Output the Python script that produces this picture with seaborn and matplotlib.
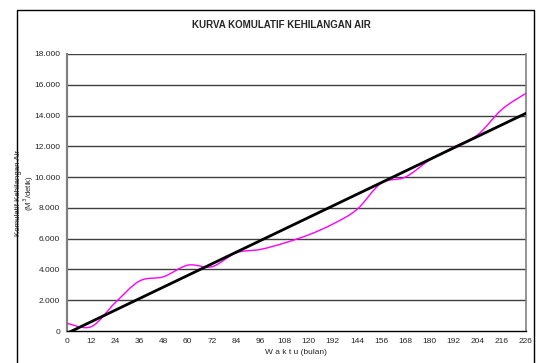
import numpy as np
import pandas as pd
import seaborn as sns

import matplotlib
matplotlib.use('Agg')

import matplotlib.pyplot as plt
from matplotlib.path import Path
from matplotlib.patches import PathPatch, Rectangle

# Data (category axis, labels as printed)
waktu_labels = ["0", "12", "24", "36", "48", "60", "72", "84", "96", "108",
                "120", "192", "144", "156", "168", "180", "192", "204", "216", "226"]
kumulatif = [500, 280, 1850, 3250, 3530, 4280, 4180, 5080, 5300, 5720,
             6250, 6950, 7900, 9600, 10000, 11100, 11950, 12750, 14400, 15450]
trend_ends = [-150, 14150]

ytick_vals = [0, 2000, 4000, 6000, 8000, 10000, 12000, 14000, 16000, 18000]


def smooth_path(xs, ys):
    # Excel style smoothed line: cubic Bezier through every point
    pts = np.column_stack([xs, ys]).astype(float)
    n = len(pts)
    verts = [pts[0]]
    codes = [Path.MOVETO]
    for i in range(n - 1):
        p0 = pts[max(i - 1, 0)]
        p1 = pts[i]
        p2 = pts[i + 1]
        p3 = pts[min(i + 2, n - 1)]
        c1 = p1 + (p2 - p0) / 6.0
        c2 = p2 - (p3 - p1) / 6.0
        verts += [c1, c2, p2]
        codes += [Path.CURVE4] * 3
    return Path(verts, codes)


sns.set_style("white")
plt.rcParams['font.family'] = ['Liberation Sans', 'DejaVu Sans']

fig = plt.figure(figsize=(5.37, 3.63), dpi=100)
ax = fig.add_axes([67 / 537, 1 - 331 / 363, (526 - 67) / 537, (331 - 54) / 363])

pos = np.arange(len(waktu_labels))

# horizontal grid
for v in ytick_vals[1:]:
    ax.axhline(v, color='0.25', lw=1.0, zorder=1)

# pink cumulative curve (smoothed)
patch = PathPatch(smooth_path(pos, kumulatif), facecolor='none',
                  edgecolor='#FF00FF', lw=1.0, zorder=3)
ax.add_patch(patch)

# black trend line
trend = pd.DataFrame({"x": [pos[0], pos[-1]], "y": trend_ends})
sns.lineplot(data=trend, x="x", y="y", ax=ax, color='black', lw=2.0, zorder=4)

ax.set_xlim(0, len(waktu_labels) - 1)
ax.set_ylim(0, 18000)
ax.set_xticks(pos)
ax.set_xticklabels(waktu_labels, fontsize=6)
ax.set_yticks(ytick_vals)
ax.set_yticklabels([f"{v:,}".replace(",", ".") for v in ytick_vals], fontsize=6)
ax.tick_params(axis='x', direction='out', length=3, width=0.8, color='black', pad=2)
ax.tick_params(axis='y', direction='out', length=3, width=1.2, color='0.45', pad=2)
ax.set_xlabel("")
ax.set_ylabel("")

for side in ['left', 'right']:
    ax.spines[side].set_color('0.5')
ax.spines['left'].set_linewidth(1.6)
ax.spines['right'].set_linewidth(1.2)
ax.spines['top'].set_visible(False)
ax.spines['bottom'].set_color('black')
ax.spines['bottom'].set_linewidth(1.0)

fig.text(281 / 537, 1 - 25 / 363, "KURVA KOMULATIF KEHILANGAN AIR",
         ha='center', va='center', fontsize=7, fontweight='bold')
fig.text(296 / 537, 1 - 352 / 363, "W a k t u (bulan)",
         ha='center', va='center', fontsize=6)
fig.text(25.5 / 537, 1 - 193 / 363, "Komulatif Kehilangan Air\n(M$^3$/detik)",
         ha='center', va='center', rotation=90, fontsize=5.7, linespacing=1.0)

# outer chart frame
fig.add_artist(Rectangle((17 / 537, -0.05), (534 - 17) / 537, 1.05 - 10 / 363,
                         transform=fig.transFigure, fill=False,
                         edgecolor='black', lw=1.0))

fig.savefig("out.png", dpi=100)
plt.close(fig)
